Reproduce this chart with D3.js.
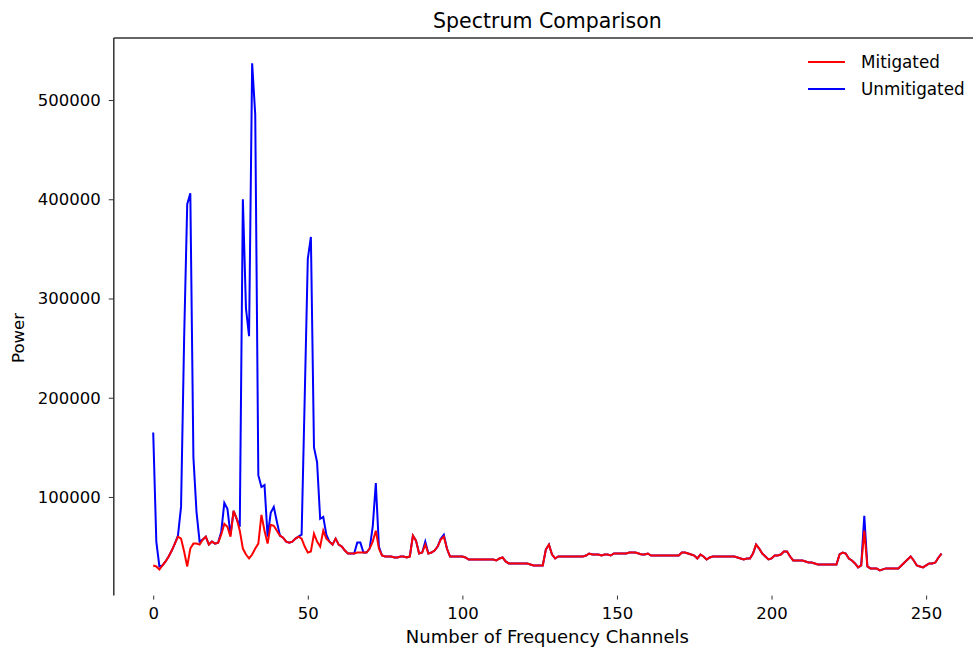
<!DOCTYPE html>
<html>
<head>
<meta charset="utf-8">
<script src="https://cdn.jsdelivr.net/npm/d3@7"></script>
<style>
  body { margin: 0; background: #fff; }
  text { font-family: "DejaVu Sans", sans-serif; fill: #000; }
</style>
</head>
<body>
<script>
// power values per channel, in thousands
var mitigated = [
  31, 30, 27, 31, 35, 40, 46, 53, 60, 58,
  45, 30, 48, 53, 53, 52, 57, 60, 52, 55,
  53, 54, 62, 73, 70, 60, 86, 78, 66, 48,
  42, 38, 42, 48, 53, 82, 66, 53, 72, 71,
  66, 61, 59, 55, 54, 55, 58, 60, 58, 50,
  44, 45, 63, 55, 50, 66, 58, 55, 52, 58,
  52, 50, 46, 43, 43, 43, 44, 44, 44, 44,
  48, 55, 66, 48, 41, 40, 40, 40, 39, 39,
  40, 40, 39, 40, 61, 56, 43, 44, 52, 43,
  44, 46, 50, 57, 60, 48, 40, 40, 40, 40,
  40, 39, 37, 37, 37, 37, 37, 37, 37, 37,
  37, 36, 38, 39, 35, 33, 33, 33, 33, 33,
  33, 33, 32, 31, 31, 31, 31, 47, 52, 42,
  38, 40, 40, 40, 40, 40, 40, 40, 40, 40,
  41, 43, 42, 42, 42, 41, 42, 42, 41, 43,
  43, 43, 43, 43, 44, 44, 44, 43, 42, 42,
  43, 41, 41, 41, 41, 41, 41, 41, 41, 41,
  41, 44, 44, 43, 42, 41, 38, 42, 40, 37,
  39, 40, 40, 40, 40, 40, 40, 40, 40, 39,
  38, 37, 38, 38, 43, 52, 48, 43, 40, 37,
  38, 41, 41, 42, 45, 45, 40, 36, 36, 36,
  36, 35, 34, 34, 33, 32, 32, 32, 32, 32,
  32, 32, 42, 44, 43, 38, 36, 33, 29, 31,
  66, 30, 28, 28, 28, 26, 27, 28, 28, 28,
  28, 28, 31, 34, 37, 40, 36, 31, 30, 29,
  31, 33, 33, 34, 39, 43
];

var unmitigated = [
  165, 55, 30, 31, 35, 40, 46, 53, 61, 90,
  260, 395, 406, 140, 85, 55, 57, 60, 52, 55,
  53, 54, 65, 94, 88, 62, 86, 78, 70, 400,
  290, 262, 537, 485, 122, 110, 112, 60, 84, 90,
  75, 61, 59, 55, 54, 55, 58, 60, 62, 200,
  340, 362, 150, 135, 78, 80, 62, 55, 52, 58,
  52, 50, 46, 43, 43, 43, 54, 54, 44, 44,
  48, 70, 114, 50, 41, 40, 40, 40, 39, 39,
  40, 40, 39, 40, 61, 56, 43, 44, 55, 43,
  44, 46, 50, 58, 62, 48, 40, 40, 40, 40,
  40, 39, 37, 37, 37, 37, 37, 37, 37, 37,
  37, 36, 38, 39, 35, 33, 33, 33, 33, 33,
  33, 33, 32, 31, 31, 31, 31, 47, 52, 42,
  38, 40, 40, 40, 40, 40, 40, 40, 40, 40,
  41, 43, 42, 42, 42, 41, 42, 42, 41, 43,
  43, 43, 43, 43, 44, 44, 44, 43, 42, 42,
  43, 41, 41, 41, 41, 41, 41, 41, 41, 41,
  41, 44, 44, 43, 42, 41, 38, 42, 40, 37,
  39, 40, 40, 40, 40, 40, 40, 40, 40, 39,
  38, 37, 38, 38, 43, 52, 48, 43, 40, 37,
  38, 41, 41, 42, 45, 45, 40, 36, 36, 36,
  36, 35, 34, 34, 33, 32, 32, 32, 32, 32,
  32, 32, 42, 44, 43, 38, 36, 33, 29, 31,
  81, 30, 28, 28, 28, 26, 27, 28, 28, 28,
  28, 28, 31, 34, 37, 40, 36, 31, 30, 29,
  31, 33, 33, 34, 39, 43
];

var xTicks = [0, 50, 100, 150, 200, 250];
var yTicks = [100000, 200000, 300000, 400000, 500000];
var seriesNames = ["Mitigated", "Unmitigated"];
var seriesColors = ["red", "blue"];

(function() {

var width = 973, height = 650;
var plotLeft = 113.8, plotRight = 981, plotTop = 38, plotBottom = 595.6;

var svg = d3.select("body").append("svg")
    .attr("width", width)
    .attr("height", height);

var x = d3.scaleLinear().domain([-12.75, 267.75]).range([plotLeft, plotRight]);
var y = d3.scaleLinear().domain([600, 562500]).range([plotBottom, plotTop]);

// y axis
var yAxis = svg.append("g")
    .attr("transform", "translate(" + plotLeft + ",0)")
    .call(d3.axisLeft(y).tickValues(yTicks).tickFormat(d3.format("d")).tickSize(5).tickPadding(8));
yAxis.select(".domain").remove();
yAxis.selectAll("line").attr("stroke", "#333");
yAxis.selectAll("text").attr("font-size", 16.5).attr("font-family", "DejaVu Sans");

// x axis (ticks only, no spine)
var xAxis = svg.append("g")
    .attr("transform", "translate(0," + plotBottom + ")")
    .call(d3.axisBottom(x).tickValues(xTicks).tickFormat(d3.format("d")).tickSize(4).tickPadding(8));
xAxis.select(".domain").remove();
xAxis.selectAll("line").attr("stroke", "#333");
xAxis.selectAll("text").attr("font-size", 16.5).attr("font-family", "DejaVu Sans");

// spines: left and top
svg.append("line")
    .attr("x1", plotLeft).attr("y1", plotTop).attr("x2", plotLeft).attr("y2", plotBottom)
    .attr("stroke", "#333").attr("stroke-width", 1.5);
svg.append("line")
    .attr("x1", plotLeft).attr("y1", plotTop).attr("x2", width).attr("y2", plotTop)
    .attr("stroke", "#333").attr("stroke-width", 1.5);

var line = d3.line()
    .x(function(d, i) { return x(i); })
    .y(function(d) { return y(d * 1000); });

svg.append("path")
    .datum(unmitigated)
    .attr("fill", "none")
    .attr("stroke", seriesColors[1])
    .attr("stroke-width", 2)
    .attr("d", line);

svg.append("path")
    .datum(mitigated)
    .attr("fill", "none")
    .attr("stroke", seriesColors[0])
    .attr("stroke-width", 2)
    .attr("d", line);

// title and labels
svg.append("text")
    .attr("x", (plotLeft + plotRight) / 2).attr("y", 28)
    .attr("text-anchor", "middle")
    .attr("font-size", 20.5)
    .text("Spectrum Comparison");

svg.append("text")
    .attr("x", (plotLeft + plotRight) / 2).attr("y", 643)
    .attr("text-anchor", "middle")
    .attr("font-size", 18)
    .text("Number of Frequency Channels");

svg.append("text")
    .attr("transform", "translate(24,338) rotate(-90)")
    .attr("text-anchor", "middle")
    .attr("font-size", 16.5)
    .text("Power");

// legend
var legend = svg.append("g");
seriesNames.forEach(function(name, i) {
  var ly = 62 + i * 27;
  legend.append("line")
      .attr("x1", 808).attr("x2", 845)
      .attr("y1", ly).attr("y2", ly)
      .attr("stroke", seriesColors[i]).attr("stroke-width", 2);
  legend.append("text")
      .attr("x", 861).attr("y", ly)
      .attr("dy", "0.35em")
      .attr("font-size", 16.8)
      .text(name);
});

})();
</script>
</body>
</html>
